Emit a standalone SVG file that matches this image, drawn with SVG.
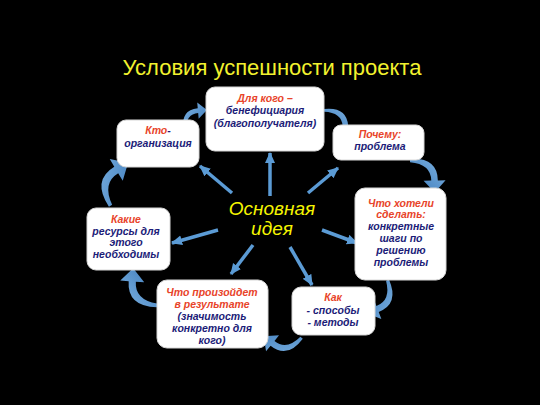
<svg xmlns="http://www.w3.org/2000/svg" width="540" height="405" viewBox="0 0 540 405">
<style>
.box{fill:#ffffff;stroke:#d6d6d6;stroke-width:1}
.t{font-family:"Liberation Sans",Arial,sans-serif;font-size:10.5px;font-weight:bold;font-style:italic;text-anchor:middle}
.r{fill:#e8442a}
.b{fill:#1c1c78}
.ray{stroke:#5b9bd5;stroke-width:3.5;fill:none;marker-end:url(#ah)}
.curve{fill:url(#cg)}
</style>
<defs>
<marker id="ah" markerUnits="userSpaceOnUse" markerWidth="12" markerHeight="12" refX="10" refY="5" orient="auto">
<path d="M0,0 L11,5 L0,10 Z" fill="#5b9bd5"/>
</marker>
<linearGradient id="cg" x1="0" y1="0" x2="1" y2="1">
<stop offset="0" stop-color="#7fb4e3"/>
<stop offset="1" stop-color="#3a78b8"/>
</linearGradient>
<path id="ca" d="M0,32 Q-1,7 20,7 L20,0 L31,10 L20,20 L20,13 Q5,13 3,32 Z"/>
</defs>
<rect width="540" height="405" fill="#000000"/>
<text x="272" y="75" font-family="Liberation Sans,Arial,sans-serif" font-size="22" fill="#f2f22e" text-anchor="middle">Условия успешности проекта</text>

<g id="connectors">
<line class="ray" x1="270" y1="196" x2="270" y2="153"/>
<line class="ray" x1="232" y1="193" x2="200" y2="166"/>
<line class="ray" x1="308" y1="193" x2="338" y2="168"/>
<line class="ray" x1="218" y1="230" x2="172" y2="243"/>
<line class="ray" x1="322" y1="230" x2="357" y2="243"/>
<line class="ray" x1="253" y1="245" x2="231" y2="274"/>
<line class="ray" x1="290" y1="247" x2="312" y2="285"/>
<use href="#ca" class="curve" transform="translate(184,130) rotate(-5) scale(0.82) translate(-1,-32)"/>
<use href="#ca" class="curve" transform="translate(324,110) rotate(86) scale(0.92) translate(-1,-32)"/>
<use href="#ca" class="curve" transform="translate(410,160) rotate(89) scale(1.1) translate(-1,-32)"/>
<use href="#ca" class="curve" transform="translate(388,280) rotate(159) scale(1.06) translate(-1,-32)"/>
<use href="#ca" class="curve" transform="translate(302,338) rotate(219) scale(1.03) translate(-1,-32)"/>
<use href="#ca" class="curve" transform="translate(157,306) rotate(-86) scale(1.2) translate(-1,-32)"/>
<use href="#ca" class="curve" transform="translate(110,206) rotate(-31) scale(1.26) translate(-1,-32)"/>
</g>

<g id="node-beneficiary">
<rect class="box" x="206" y="87" width="118" height="64" rx="9"/>
<text class="t r" x="265" y="102">Для кого –</text>
<text class="t b" x="265" y="114">бенефициария</text>
<text class="t b" x="265" y="127">(благополучателя)</text>
</g>
<g id="node-who">
<rect class="box" x="117" y="120" width="82" height="47" rx="9"/>
<text class="t" x="158" y="134"><tspan class="r">Кто</tspan><tspan class="b">-</tspan></text>
<text class="t b" x="158" y="147">организация</text>
</g>
<g id="node-why">
<rect class="box" x="333" y="125" width="91" height="35" rx="8"/>
<text class="t r" x="380" y="138">Почему:</text>
<text class="t b" x="380" y="150">проблема</text>
</g>
<g id="node-what">
<rect class="box" x="355" y="188" width="91" height="92" rx="10"/>
<text class="t r" x="401" y="207">Что хотели</text>
<text class="t r" x="401" y="218">сделать:</text>
<text class="t b" x="401" y="230">конкретные</text>
<text class="t b" x="401" y="242">шаги по</text>
<text class="t b" x="401" y="254">решению</text>
<text class="t b" x="401" y="266">проблемы</text>
</g>
<g id="node-resources">
<rect class="box" x="87" y="208" width="83" height="62" rx="9"/>
<text class="t r" x="126" y="223">Какие</text>
<text class="t b" x="126" y="235">ресурсы для</text>
<text class="t b" x="126" y="246">этого</text>
<text class="t b" x="126" y="258">необходимы</text>
</g>
<g id="node-result">
<rect class="box" x="157" y="280" width="111" height="68" rx="10"/>
<text class="t r" x="212" y="296">Что произойдет</text>
<text class="t r" x="212" y="308">в результате</text>
<text class="t b" x="212" y="320">(значимость</text>
<text class="t b" x="212" y="332">конкретно для</text>
<text class="t b" x="212" y="344">кого)</text>
</g>
<g id="node-how">
<rect class="box" x="292" y="287" width="83" height="48" rx="9"/>
<text class="t r" x="333" y="301">Как</text>
<text class="t b" x="333" y="314">- способы</text>
<text class="t b" x="333" y="326">- методы</text>
</g>
<g id="node-idea">
<text x="272" y="215" font-family="Liberation Sans,Arial,sans-serif" font-size="19" font-style="italic" fill="#f5f500" text-anchor="middle">Основная</text>
<text x="272" y="235" font-family="Liberation Sans,Arial,sans-serif" font-size="19" font-style="italic" fill="#f5f500" text-anchor="middle">идея</text>
</g>
</svg>
